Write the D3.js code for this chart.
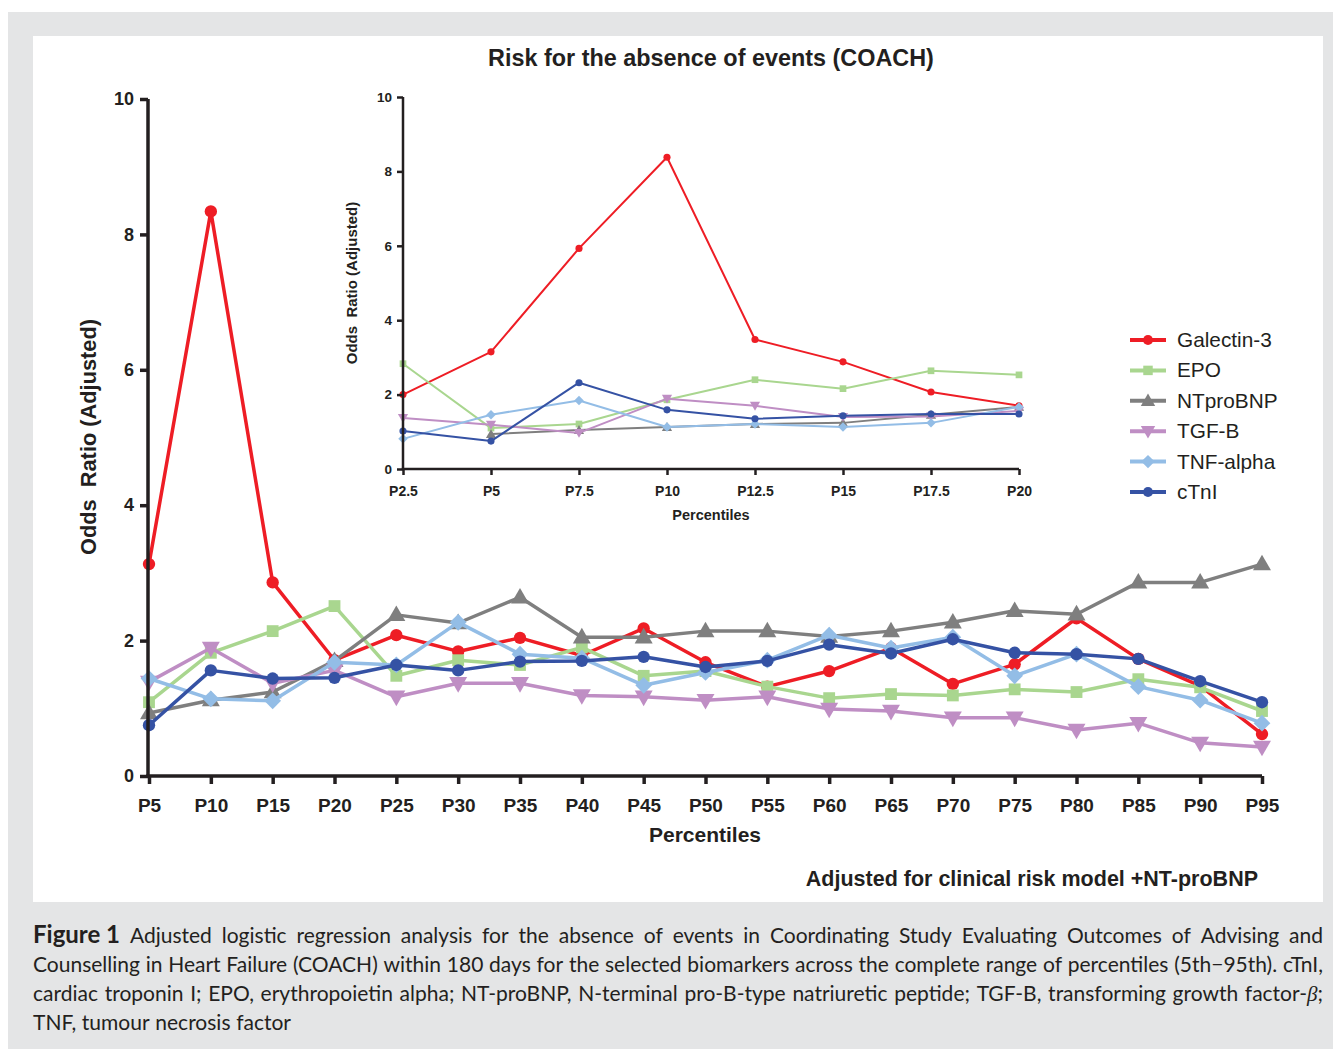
<!DOCTYPE html>
<html>
<head>
<meta charset="utf-8">
<script src="https://cdn.jsdelivr.net/npm/d3@7"></script>
<style>
  html, body { margin: 0; padding: 0; background: #ffffff; }
  svg { display: block; }
</style>
</head>
<body>
<svg id="chart" width="1333" height="1049"></svg>
<script>
// ---------------- DATA ----------------
const mainCategories = ["P5","P10","P15","P20","P25","P30","P35","P40","P45","P50","P55","P60","P65","P70","P75","P80","P85","P90","P95"];
const seriesNames = ["Galectin-3","EPO","NTproBNP","TGF-B","TNF-alpha","cTnI"];

const mainGalectin = [3.13,8.34,2.86,1.71,2.08,1.84,2.04,1.78,2.18,1.68,1.32,1.55,1.89,1.36,1.65,2.33,1.73,1.33,0.62];
const mainEPO      = [1.09,1.82,2.14,2.51,1.48,1.71,1.64,1.90,1.48,1.55,1.32,1.15,1.21,1.19,1.28,1.24,1.43,1.31,0.96];
const mainNTproBNP = [0.93,1.12,1.24,1.70,2.38,2.26,2.64,2.05,2.05,2.14,2.14,2.06,2.14,2.27,2.44,2.39,2.86,2.86,3.13];
const mainTGFB     = [1.39,1.89,1.37,1.56,1.17,1.37,1.37,1.19,1.17,1.12,1.17,0.99,0.96,0.86,0.86,0.68,0.78,0.49,0.43];
const mainTNF      = [1.44,1.14,1.11,1.68,1.64,2.27,1.80,1.74,1.34,1.53,1.71,2.08,1.89,2.05,1.48,1.80,1.32,1.12,0.78];
const mainCTnI     = [0.75,1.56,1.44,1.45,1.64,1.56,1.69,1.70,1.76,1.61,1.70,1.94,1.81,2.02,1.82,1.80,1.73,1.40,1.09];

const insetCategories = ["P2.5","P5","P7.5","P10","P12.5","P15","P17.5","P20"];
const insetGalectin = [2.00,3.15,5.93,8.38,3.48,2.88,2.07,1.70];
const insetEPO      = [2.83,1.10,1.21,1.86,2.40,2.16,2.64,2.53];
const insetNTproBNP = [null,0.94,1.05,1.13,1.21,1.24,1.46,1.67];
const insetTGFB     = [1.37,1.19,0.97,1.89,1.70,1.40,1.41,1.56];
const insetTNF      = [0.81,1.46,1.84,1.13,1.21,1.13,1.24,1.67];
const insetCTnI     = [1.02,0.75,2.32,1.59,1.35,1.43,1.48,1.48];

const yTicks = [0,2,4,6,8,10];

const titleText = "Risk for the absence of events (COACH)";
const mainXTitle = "Percentiles";
const mainYTitle = "Odds\u00a0\u00a0Ratio (Adjusted)";
const footnote = "Adjusted for clinical risk model +NT-proBNP";
const captionLines = [
  "Adjusted logistic regression analysis for the absence of events in Coordinating Study Evaluating Outcomes of Advising and",
  "Counselling in Heart Failure (COACH) within 180 days for the selected biomarkers across the complete range of percentiles (5th\u221295th). cTnI,",
  "cardiac troponin I; EPO, erythropoietin alpha; NT-proBNP, N-terminal pro-B-type natriuretic peptide; TGF-B, transforming growth factor-\u03b2;",
  "TNF, tumour necrosis factor"
];

// ---------------- STYLE ----------------
const colors = ["#ee1d25","#a9d68f","#7f7f7f","#bf8ec4","#93bde6","#3552a4"];
const symbols = ["circle","square","triangle","triangleDown","diamond","circle"];
const ink = "#231f20";
const font = "'Liberation Sans', Arial, Helvetica, sans-serif";

const svg = d3.select("#chart");

// backgrounds
svg.append("rect").attr("x",8).attr("y",12).attr("width",1325).attr("height",1037).attr("fill","#e4e5e6");
svg.append("rect").attr("x",33).attr("y",36).attr("width",1290).attr("height",866).attr("fill","#ffffff");

function symbolPath(kind, size) {
  if (kind === "circle") return d3.symbol(d3.symbolCircle, size)();
  if (kind === "square") return d3.symbol(d3.symbolSquare, size)();
  if (kind === "triangle") return d3.symbol(d3.symbolTriangle, size)();
  if (kind === "triangleDown") return d3.symbol(d3.symbolTriangle, size)();
  if (kind === "diamond") return d3.symbol(d3.symbolSquare, size)();
}
function symbolTransform(kind, x, y) {
  let t = `translate(${x},${y})`;
  if (kind === "triangleDown") t += " rotate(180)";
  if (kind === "diamond") t += " rotate(45)";
  if (kind === "triangle") t += " translate(0,1)";
  if (kind === "triangleDown") t += " translate(0,1)";
  return t;
}

function drawPanel(g, cats, seriesArr, opt) {
  const x = d3.scalePoint().domain(cats).range(opt.xr);
  const y = d3.scaleLinear().domain([0,10]).range(opt.yr);

  seriesArr.forEach((vals, i) => {
    const pts = cats.map((c, j) => ({c, v: vals[j]})).filter(d => d.v != null);
    const line = d3.line().x(d => x(d.c)).y(d => y(d.v));
    g.append("path").datum(pts).attr("d", line)
      .attr("fill","none").attr("stroke",colors[i]).attr("stroke-width",opt.lw)
      .attr("stroke-linejoin","round");
    g.selectAll(null).data(pts).enter().append("path")
      .attr("d", symbolPath(symbols[i], symbols[i]==="circle" ? opt.circleSize : opt.symSize))
      .attr("transform", d => symbolTransform(symbols[i], x(d.c), y(d.v)))
      .attr("fill", colors[i]);
  });

  const yAxis = d3.axisLeft(y).tickValues(yTicks).tickSize(opt.tick).tickPadding(opt.pad).tickSizeOuter(0);
  const ya = g.append("g").attr("transform",`translate(${opt.xr[0]-opt.off},0)`).call(yAxis);
  const xAxis = d3.axisBottom(x).tickSize(opt.tick).tickPadding(opt.xpad).tickSizeOuter(0);
  const xa = g.append("g").attr("transform",`translate(0,${opt.yr[0]})`).call(xAxis);
  [ya, xa].forEach(a => {
    a.select(".domain").attr("stroke",ink).attr("stroke-width",opt.aw);
    a.selectAll(".tick line").attr("stroke",ink).attr("stroke-width",opt.aw);
    a.selectAll(".tick text").attr("fill",ink).attr("font-family",font)
      .attr("font-weight","bold");
  });
  ya.selectAll(".tick text").attr("font-size",opt.yfs);
  xa.selectAll(".tick text").attr("font-size",opt.xfs);
  xa.select(".domain").attr("d", `M${opt.xr[0]-opt.off-opt.aw/2},0H${opt.xr[1]}`);
  ya.select(".domain").attr("d", `M0,${opt.yr[0]}V${opt.yr[1]}`);
  return {x, y};
}

const mainSeries = [mainGalectin, mainEPO, mainNTproBNP, mainTGFB, mainTNF, mainCTnI];
const insetSeries = [insetGalectin, insetEPO, insetNTproBNP, insetTGFB, insetTNF, insetCTnI];

const gMain = svg.append("g");
drawPanel(gMain, mainCategories, mainSeries, {
  xr:[149,1262], yr:[776,99], lw:3.5, aw:3.5, tick:8, pad:6, xpad:15, yfs:18, xfs:19, off:1,
  circleSize:120, symSize:140
});

const gInset = svg.append("g");
drawPanel(gInset, insetCategories, insetSeries, {
  xr:[403,1019], yr:[469,97], lw:2, aw:2.5, tick:6, pad:5, xpad:11, yfs:13.5, xfs:14, off:0,
  circleSize:40, symSize:45
});

// titles
svg.append("text").attr("x",711).attr("y",66).attr("text-anchor","middle")
  .attr("font-family",font).attr("font-weight","bold").attr("font-size",23.4).attr("fill",ink).text(titleText);

svg.append("text").attr("x",705).attr("y",842).attr("text-anchor","middle")
  .attr("font-family",font).attr("font-weight","bold").attr("font-size",21).attr("fill",ink).text(mainXTitle);

svg.append("text").attr("transform","translate(96,437) rotate(-90)").attr("text-anchor","middle")
  .attr("font-family",font).attr("font-weight","bold").attr("font-size",21.8).attr("fill",ink).text(mainYTitle);

svg.append("text").attr("x",711).attr("y",520).attr("text-anchor","middle")
  .attr("font-family",font).attr("font-weight","bold").attr("font-size",14.5).attr("fill",ink).text(mainXTitle);

svg.append("text").attr("transform","translate(357,283) rotate(-90)").attr("text-anchor","middle")
  .attr("font-family",font).attr("font-weight","bold").attr("font-size",15).attr("fill",ink).text(mainYTitle);

svg.append("text").attr("x",1258).attr("y",886).attr("text-anchor","end")
  .attr("font-family",font).attr("font-weight","bold").attr("font-size",21.5).attr("fill",ink).text(footnote);

// legend
const legendY = d3.scalePoint().domain(seriesNames).range([340,492]);
const lg = svg.append("g");
seriesNames.forEach((name, i) => {
  const yy = legendY(name);
  lg.append("line").attr("x1",1130).attr("x2",1166).attr("y1",yy).attr("y2",yy)
    .attr("stroke",colors[i]).attr("stroke-width",4);
  lg.append("path").attr("d", symbolPath(symbols[i], symbols[i]==="circle" ? 80 : 90))
    .attr("transform", symbolTransform(symbols[i], 1148, yy)).attr("fill", colors[i]);
  lg.append("text").attr("x",1177).attr("y",yy+7).attr("font-family",font)
    .attr("font-size",20.8).attr("fill",ink).text(name);
});

// caption (justified)
const capFont = "Lato, 'Open Sans', sans-serif";
const capSize = 21;
const capLeft = 33, capRight = 1323;
const capBase = [943, 972, 1001, 1030];
captionLines.forEach((line, li) => {
  const words = line.split(" ");
  const tokens = [];
  if (li === 0) tokens.push({t:"Figure 1", bold:true});
  words.forEach(w => tokens.push({t:w, bold:false}));
  const nodes = tokens.map(tok => {
    const t = svg.append("text").attr("y",capBase[li]).attr("font-family",capFont)
      .attr("font-size", tok.bold ? 24 : capSize).attr("fill",ink)
      .attr("font-weight", tok.bold ? "bold" : "normal");
    if (tok.t.endsWith("\u03b2;")) {
      t.append("tspan").text(tok.t.slice(0,-2));
      t.append("tspan").attr("font-style","italic").attr("font-family","'Liberation Serif', serif").text("\u03b2");
      t.append("tspan").text(";");
    } else {
      t.text(tok.t);
    }
    return t;
  });
  const widths = nodes.map(n => n.node().getComputedTextLength());
  const total = d3.sum(widths);
  const justify = li < captionLines.length - 1;
  const gap = justify ? (capRight - capLeft - total) / (nodes.length - 1) : capSize * 0.27;
  let cx = capLeft;
  nodes.forEach((n, k) => { n.attr("x", cx); cx += widths[k] + gap; });
});
</script>
</body>
</html>
